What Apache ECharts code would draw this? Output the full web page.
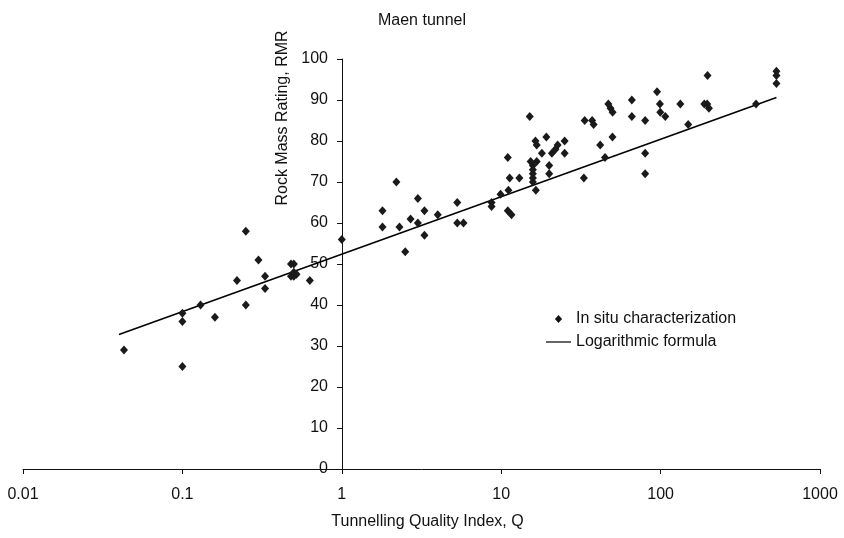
<!DOCTYPE html>
<html>
<head>
<meta charset="utf-8">
<title>Maen tunnel</title>
<script src="https://cdn.jsdelivr.net/npm/echarts@6/dist/echarts.min.js"></script>
<style>
  html, body { margin: 0; padding: 0; background: #fff; }
  #chart { width: 844px; height: 538px; }
</style>
</head>
<body>
<div id="chart"></div>
<script>
// in situ points: Q and RMR
const qValues = [
  0.043, 0.1, 0.1, 0.1, 0.13, 0.16, 0.22, 0.25, 0.25, 0.3, 0.33, 0.33,
  0.48, 0.5, 0.48, 0.5, 0.5, 0.52, 0.63, 1,
  1.8, 1.8, 2.2, 2.3, 2.5, 2.7, 3, 3, 3.3, 3.3, 4, 5.3, 5.3, 5.8,
  8.7, 8.7, 9.9, 11, 11.6, 11.1, 11, 11.3, 13, 15.1, 15.3, 16.7,
  15.8, 15.8, 15.8, 15.8, 15.8, 16.5, 16.4, 16.7, 18, 19.2, 20, 20,
  20.8, 21.9, 22.6, 25, 25, 33, 33.4, 37.2, 38, 41.8, 44.8,
  47, 48.5, 50, 49.9, 66, 66, 80, 80, 80, 95, 99, 99.5, 107,
  133, 149, 197, 188, 196, 201, 397, 533, 533, 533
];
const rmrValues = [
  29, 25, 36, 38, 40, 37, 46, 58, 40, 51, 47, 44,
  50, 50, 47, 47, 48, 47.5, 46, 56,
  59, 63, 70, 59, 53, 61, 66, 60, 63, 57, 62, 65, 60, 60,
  65, 64, 67, 63, 62, 68, 76, 71, 71, 86, 75, 75,
  74, 73, 72, 71, 70, 68, 80, 79, 77, 81, 74, 72,
  77, 78, 79, 80, 77, 71, 85, 85, 84, 79, 76,
  89, 88, 87, 81, 90, 86, 85, 77, 72, 92, 89, 87, 86,
  89, 84, 96, 89, 89, 88, 89, 97, 96, 94
];

// logarithmic fit, end points as drawn
const fitQ = [0.04, 533];
const fitRmr = [32.8, 90.6];

const xTickLabels = ['0.01', '0.1', '1', '10', '100', '1000'];
const yMin = 0, yMax = 100, yStep = 10;

const font = "'Liberation Sans', Arial, sans-serif";
const ink = '#111';

const chart = echarts.init(document.getElementById('chart'));

chart.setOption({
  animation: false,
  backgroundColor: '#fff',
  textStyle: { fontFamily: font },
  title: {
    text: 'Maen tunnel',
    left: 'center',
    top: 8,
    textStyle: { color: ink, fontSize: 16, fontWeight: 'normal', fontFamily: font }
  },
  grid: { left: 23, right: 24, top: 59, bottom: 69, containLabel: false },
  legend: {
    orient: 'vertical',
    left: 541,
    top: 306,
    itemWidth: 25,
    itemHeight: 8,
    itemGap: 7,
    symbolKeepAspect: true,
    textStyle: { color: ink, fontSize: 16, fontFamily: font },
    data: [
      { name: 'In situ characterization', icon: 'path://M4,0 L8,4.5 L4,9 L0,4.5 Z', itemStyle: { color: '#111', opacity: 1 } },
      { name: 'Logarithmic formula', icon: 'path://M0,0 L25,0 L25,1.4 L0,1.4 Z', itemStyle: { color: '#222' } }
    ]
  },
  xAxis: {
    type: 'log',
    logBase: 10,
    min: 0.01,
    max: 1000,
    name: 'Tunnelling Quality Index, Q',
    nameLocation: 'middle',
    nameGap: 45,
    nameTextStyle: { color: ink, fontSize: 16, fontFamily: font, padding: [0, 0, 0, 12] },
    axisLine: { lineStyle: { color: ink, width: 1 } },
    axisTick: { show: true, length: 5, lineStyle: { color: ink } },
    minorTick: { show: false },
    splitLine: { show: false },
    axisLabel: {
      color: ink,
      fontSize: 16,
      margin: 18,
      formatter: v => xTickLabels[Math.round(Math.log10(v)) + 2] || ''
    }
  },
  yAxis: {
    type: 'value',
    min: yMin,
    max: yMax,
    interval: yStep,
    position: 'left',
    offset: -319,
    axisLine: { show: true, lineStyle: { color: ink, width: 1 } },
    axisTick: { show: true, length: 5, lineStyle: { color: ink } },
    splitLine: { show: false },
    axisLabel: { color: ink, fontSize: 16, margin: 14 }
  },
  graphic: [{
    type: 'text',
    x: 283,
    y: 118,
    rotation: Math.PI / 2,
    style: {
      text: 'Rock Mass Rating, RMR',
      fill: ink,
      font: "16px 'Liberation Sans', Arial, sans-serif",
      textAlign: 'center',
      textVerticalAlign: 'middle'
    }
  }],
  series: [
    {
      name: 'In situ characterization',
      type: 'scatter',
      symbol: 'diamond',
      symbolSize: [8, 9],
      itemStyle: { color: '#1a1a1a', opacity: 1 },
      data: qValues.map((q, i) => [q, rmrValues[i]]),
      z: 3
    },
    {
      name: 'Logarithmic formula',
      type: 'line',
      symbol: 'none',
      showSymbol: false,
      lineStyle: { color: '#000', width: 1.6 },
      itemStyle: { color: '#000' },
      data: fitQ.map((q, i) => [q, fitRmr[i]]),
      z: 2
    }
  ]
});
</script>
</body>
</html>
